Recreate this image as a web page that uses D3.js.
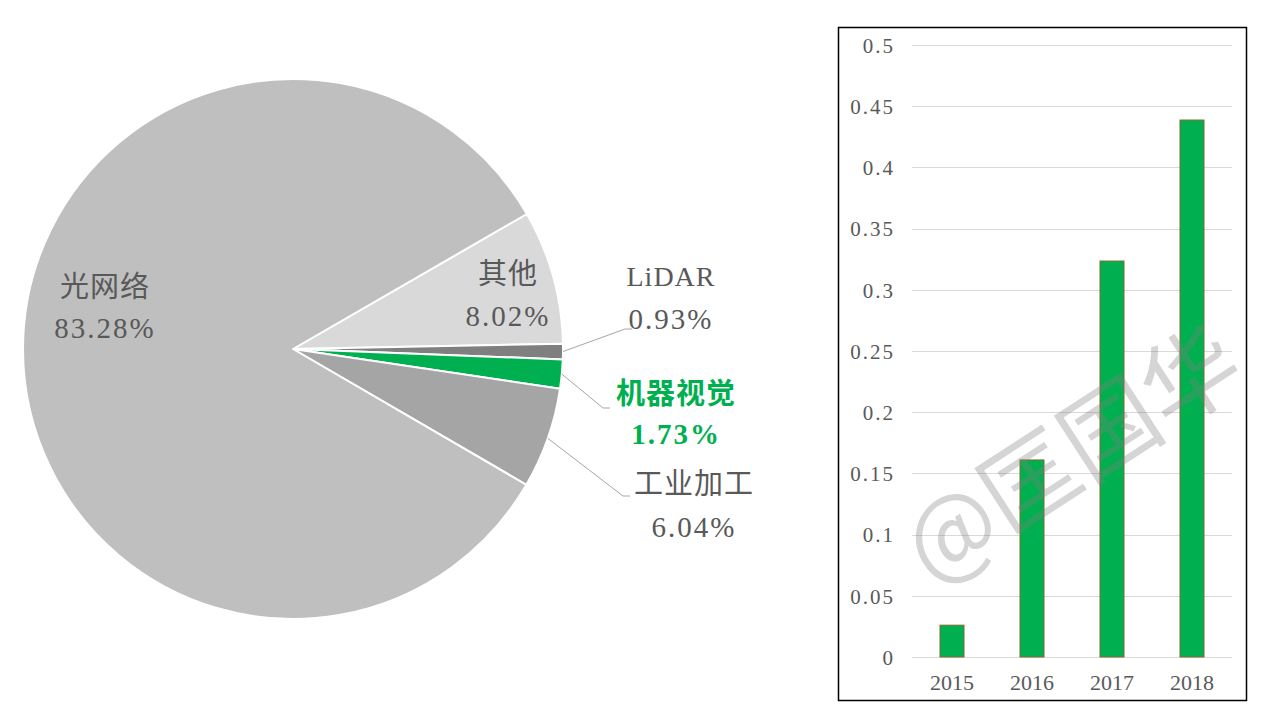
<!DOCTYPE html>
<html><head><meta charset="utf-8">
<script src="https://cdn.jsdelivr.net/npm/d3@7"></script>
<style>
html,body{margin:0;padding:0;background:#fff;}
svg{display:block;}
</style></head>
<body>
<svg id="c" width="1280" height="720"></svg>
<script>
// ---- data ----
const pieNames = ["其他", "LiDAR", "机器视觉", "工业加工", "光网络"];
const pieValues = [8.02, 0.93, 1.73, 6.04, 83.28];
const pieLabels = ["8.02%", "0.93%", "1.73%", "6.04%", "83.28%"];
const pieColors = ["#D9D9D9", "#7F7F7F", "#00B050", "#A5A5A5", "#BFBFBF"];

const years = ["2015", "2016", "2017", "2018"];
const barValues = [0.026, 0.161, 0.3235, 0.4387];
const yTicks = [0, 0.05, 0.1, 0.15, 0.2, 0.25, 0.3, 0.35, 0.4, 0.45, 0.5];

// ---- layout (positions only) ----
const labelPos = [ // [x, baseline y of first line, line2 baseline]
  [508, 284, 326],
  [671, 286, 329],
  [676, 404, 444],
  [694, 494, 537],
  [105, 297, 338]
];
const leaderElbow = [null, [[625,329],[632,329]], [[603,408],[610,408]], [[623,496],[630,496]], null];

const svg = d3.select("#c");
const font = "'Liberation Serif','Noto Sans CJK SC',serif";

// ---- pie ----
const cx = 293, cy = 349, R = 270;
const pie = d3.pie().sort(null).value(d => d)
  .startAngle(Math.PI/3).endAngle(Math.PI/3 + 2*Math.PI);
const arcs = pie(pieValues);
const arc = d3.arc().innerRadius(0).outerRadius(R);
const g = svg.append("g").attr("transform", `translate(${cx},${cy})`);
g.selectAll("path").data(arcs).join("path")
  .attr("d", arc)
  .attr("fill", (d,i) => pieColors[i])
  .attr("stroke", "#fff").attr("stroke-width", 2).attr("stroke-linejoin","round");

// leader lines
arcs.forEach((d,i) => {
  if (!leaderElbow[i]) return;
  const a = (d.startAngle + d.endAngle)/2;
  const sx = cx + R*Math.sin(a), sy = cy - R*Math.cos(a);
  const pts = [[sx,sy]].concat(leaderElbow[i]);
  svg.append("path").attr("d", d3.line()(pts))
    .attr("fill","none").attr("stroke","#A6A6A6").attr("stroke-width",1);
});

// labels
pieNames.forEach((n,i) => {
  const green = i === 2;
  const col = green ? "#00B050" : "#595959";
  const [x, y1, y2] = labelPos[i];
  svg.append("text").attr("x", x).attr("y", y1).attr("text-anchor","middle")
    .attr("font-family", font).attr("font-size", n === "LiDAR" ? 28 : 29)
    .attr("font-weight", green ? "bold" : "normal")
    .attr("letter-spacing", 1)
    .attr("fill", col).text(n);
  svg.append("text").attr("x", x).attr("y", y2).attr("text-anchor","middle")
    .attr("font-family", font).attr("font-size", 29)
    .attr("font-weight", green ? "bold" : "normal")
    .attr("letter-spacing", 2)
    .attr("fill", col).text(pieLabels[i]);
});

// ---- bar chart ----
svg.append("rect").attr("x", 838.5).attr("y", 27.5).attr("width", 408).attr("height", 673)
  .attr("fill","#fff").attr("stroke","#000").attr("stroke-width",1.5);

const y = d3.scaleLinear().domain([0, 0.5]).range([657, 45]);
const x = d3.scaleBand().domain(years).range([912, 1232]).paddingInner(0.7).paddingOuter(0.35);

const grid = svg.append("g");
grid.selectAll("line").data(yTicks).join("line")
  .attr("x1", 912).attr("x2", 1232)
  .attr("y1", d => Math.round(y(d)) + 0.5).attr("y2", d => Math.round(y(d)) + 0.5)
  .attr("stroke", "#D9D9D9").attr("stroke-width", 1);

const yAxis = d3.axisLeft(y).tickValues(yTicks).tickSize(0).tickPadding(0)
  .tickFormat(d => d === 0 ? "0" : String(+d.toFixed(2)));
const ya = svg.append("g").attr("transform", "translate(895,0)").call(yAxis);
ya.select(".domain").remove();
ya.selectAll("text").attr("font-family", font).attr("font-size", 21)
  .attr("fill", "#595959").attr("letter-spacing", 2).attr("dy", "0.35em");

svg.append("g").selectAll("rect").data(barValues).join("rect")
  .attr("x", (d,i) => x(years[i]))
  .attr("y", d => y(d))
  .attr("width", x.bandwidth())
  .attr("height", d => y(0) - y(d))
  .attr("fill", "#00B050").attr("stroke", "#7F6A2A").attr("stroke-width", 1);

const xAxis = d3.axisBottom(x).tickSize(0).tickPadding(0);
const xa = svg.append("g").attr("transform", "translate(0,672)").call(xAxis);
xa.select(".domain").remove();
xa.selectAll("text").attr("font-family", font).attr("font-size", 22)
  .attr("fill", "#595959").attr("dy", "0.8em");

// ---- watermark ----
svg.append("text").attr("transform", "translate(1068,448) rotate(-33)")
  .attr("text-anchor","middle").attr("dominant-baseline","central")
  .attr("font-family", "'Noto Sans CJK SC',sans-serif").attr("font-size", 96)
  .attr("fill", "#808080").attr("fill-opacity", 0.33)
  .text("@匡国华");
</script>
</body></html>
